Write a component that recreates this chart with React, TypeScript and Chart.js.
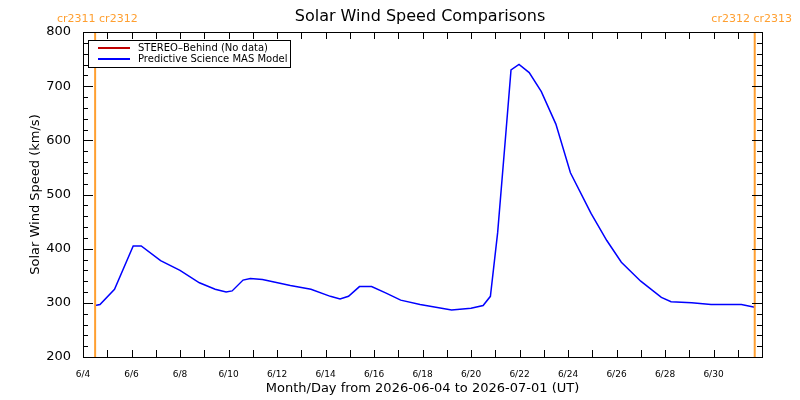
import React, { useEffect, useRef } from "react";
import { Chart, registerables } from "chart.js";
Chart.register(...registerables);

const days = [0.5, 0.7, 1.3, 2.07, 2.4, 3.2, 4.0, 4.8, 5.45, 5.9, 6.15, 6.6, 6.9, 7.4, 8.55, 9.4, 10.2, 10.6, 10.95, 11.4, 11.9, 12.5, 13.1, 13.9, 15.2, 16.0, 16.5, 16.8, 17.1, 17.45, 17.65, 17.98, 18.4, 18.9, 19.5, 20.1, 20.95, 21.6, 22.2, 23.0, 23.85, 24.25, 25.1, 25.9, 27.15, 27.7];
const speeds = [295, 297, 325, 405, 405, 378, 360, 337, 325, 320, 322, 342, 345, 343, 332, 325, 312, 307, 312, 330, 330, 318, 305, 297, 287, 290, 295, 312, 430, 620, 730, 740, 725, 690, 630, 540, 465, 415, 375, 340, 310, 302, 300, 297, 297, 292];
const crLines = [0.5, 27.7];
const tickLabels = ["6/4", "6/6", "6/8", "6/10", "6/12", "6/14", "6/16", "6/18", "6/20", "6/22", "6/24", "6/26", "6/28", "6/30"];
const legendItems = [
  { label: "STEREO\u2013Behind (No data)", color: "#c00000" },
  { label: "Predictive Science MAS Model", color: "#0000ff" },
];
const FONT = "'DejaVu Sans', sans-serif";

export default function App() {
  const ref = useRef<HTMLCanvasElement>(null);
  useEffect(() => {
    const overlay = {
      id: "overlay",
      afterDatasetsDraw(chart: any) {
        const { ctx, chartArea: a, scales } = chart;
        const x = scales.x, y = scales.y;
        ctx.save();
        ctx.strokeStyle = "#ff9f30";
        ctx.lineWidth = 2;
        crLines.forEach((d) => {
          const px = x.getPixelForValue(d);
          ctx.beginPath(); ctx.moveTo(px, a.top); ctx.lineTo(px, a.bottom); ctx.stroke();
        });
        ctx.strokeStyle = "#000"; ctx.lineWidth = 1;
        ctx.strokeRect(a.left + 0.5, a.top + 0.5, a.right - a.left, a.bottom - a.top);
        ctx.beginPath();
        for (let d = 0; d <= 28; d++) {
          const px = Math.round(x.getPixelForValue(d)) + 0.5;
          ctx.moveTo(px, a.bottom); ctx.lineTo(px, a.bottom - 7);
          ctx.moveTo(px, a.top); ctx.lineTo(px, a.top + 7);
        }
        for (let v = 200; v <= 800; v += 20) {
          const py = Math.round(y.getPixelForValue(v)) + 0.5;
          const len = v % 100 === 0 ? 10 : 5;
          ctx.moveTo(a.left, py); ctx.lineTo(a.left + len, py);
          ctx.moveTo(a.right, py); ctx.lineTo(a.right - len, py);
        }
        ctx.stroke();
        ctx.fillStyle = "#000";
        ctx.font = "16px " + FONT;
        ctx.textAlign = "center"; ctx.textBaseline = "middle";
        ctx.fillText("Solar Wind Speed Comparisons", 420, 17);
        ctx.fillStyle = "#ff9f30";
        ctx.font = "11px " + FONT;
        ctx.textAlign = "left";
        ctx.fillText("cr2311 cr2312", 57, 19);
        ctx.textAlign = "right";
        ctx.fillText("cr2312 cr2313", 792, 19);
        ctx.strokeStyle = "#000"; ctx.lineWidth = 1;
        ctx.fillStyle = "#fff";
        ctx.fillRect(88, 40, 202, 27);
        ctx.strokeRect(88.5, 40.5, 202, 27);
        ctx.font = "10px " + FONT;
        ctx.textAlign = "left";
        legendItems.forEach((it, i) => {
          const ly = 48 + i * 11;
          ctx.strokeStyle = it.color; ctx.lineWidth = 2;
          ctx.beginPath(); ctx.moveTo(98, ly); ctx.lineTo(130, ly); ctx.stroke();
          ctx.fillStyle = "#000";
          ctx.fillText(it.label, 138, ly);
        });
        ctx.restore();
      },
    };
    const chart = new Chart(ref.current!, {
      type: "line",
      data: {
        datasets: [{
          data: days.map((d, i) => ({ x: d, y: speeds[i] })),
          borderColor: "#0000ff", borderWidth: 1.5, pointRadius: 0, tension: 0,
        }],
      },
      options: {
        animation: false, responsive: false,
        layout: { padding: { top: 32, right: 38, left: 28, bottom: 0 } },
        plugins: { legend: { display: false }, tooltip: { enabled: false }, title: { display: false } },
        scales: {
          x: {
            type: "linear", min: 0, max: 28,
            grid: { display: false }, border: { display: false },
            afterFit: (s: any) => { s.height = 43; },
            afterBuildTicks: (s: any) => { s.ticks = tickLabels.map((_, i) => ({ value: i * 2 })); },
            ticks: {
              autoSkip: false, maxRotation: 0, padding: 4,
              color: "#000", font: { family: FONT, size: 9 },
              callback: (v: any) => tickLabels[Math.round(Number(v) / 2)] ?? "",
            },
            title: { display: true, text: "Month/Day from 2026-06-04 to 2026-07-01 (UT)", color: "#000", font: { family: FONT, size: 13 }, padding: { top: 2 } },
          },
          y: {
            min: 200, max: 800,
            grid: { display: false }, border: { display: false },
            afterFit: (s: any) => { s.width = 55; },
            ticks: { stepSize: 100, color: "#000", font: { family: FONT, size: 13 }, padding: 4 },
            title: { display: true, text: "Solar Wind Speed (km/s)", color: "#000", font: { family: FONT, size: 13 }, padding: 0 },
          },
        },
      },
      plugins: [overlay],
    });
    return () => chart.destroy();
  }, []);
  return <canvas ref={ref} width={800} height={400} style={{ position: "absolute", left: 0, top: 0 }} />;
}
